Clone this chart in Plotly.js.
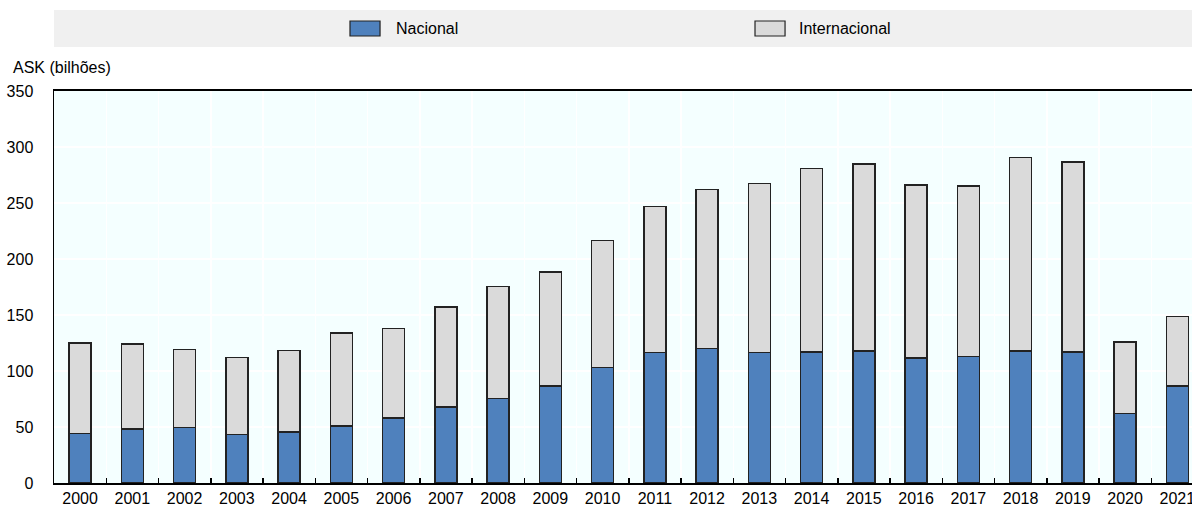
<!DOCTYPE html>
<html>
<head>
<meta charset="utf-8">
<script src="https://cdn.plot.ly/plotly-3.0.1.min.js"></script>
<style>html,body{margin:0;padding:0;background:#fff;}#chart{width:1192px;height:507px;}</style>
</head>
<body>
<div id="chart"></div>
<script>
const years = ['2000','2001','2002','2003','2004','2005','2006','2007','2008','2009','2010','2011','2012','2013','2014','2015','2016','2017','2018','2019','2020','2021'];
const nacional = [44, 48, 49.5, 43.5, 45.5, 51, 58, 68, 75.5, 86.5, 103, 116.5, 120, 116.5, 117, 118, 111.5, 113, 118, 117, 62, 86.5];
const total = [125, 124, 119, 112, 118.5, 134, 138, 157, 175.5, 188.5, 216.5, 247, 262, 267.5, 281, 285, 266, 265, 290.5, 286.5, 126, 148.5];
const internacional = total.map((t, i) => +(t - nacional[i]).toFixed(1));
const seriesNames = ['Nacional', 'Internacional'];
const yTitle = 'ASK (bilhões)';

const font = {family: 'Liberation Sans, Arial, sans-serif', size: 16, color: '#000'};
const lineStyle = {color: '#222', width: 1.5};

const traces = [
  {type: 'bar', name: seriesNames[0], x: years, y: nacional, marker: {color: '#4F81BD', line: lineStyle}, showlegend: false},
  {type: 'bar', name: seriesNames[1], x: years, y: internacional, marker: {color: '#DADADA', line: lineStyle}, showlegend: false}
];

const layout = {
  width: 1192, height: 507,
  margin: {l: 54, r: 0, t: 91, b: 24},
  paper_bgcolor: '#fff',
  plot_bgcolor: '#F4FFFF',
  barmode: 'stack',
  bargap: 0.58,
  font: font,
  xaxis: {
    type: 'category',
    range: [-0.5, 21.28],
    tickson: 'boundaries',
    ticks: 'inside', ticklen: 5, tickcolor: '#000', tickwidth: 1.5,
    showgrid: true, gridcolor: '#fff', gridwidth: 1.5,
    showline: true, linecolor: '#000', linewidth: 2, mirror: true,
    tickfont: font,
    fixedrange: true
  },
  yaxis: {
    range: [0, 350],
    dtick: 50,
    showgrid: true, gridcolor: '#fff', gridwidth: 1.5,
    showline: true, linecolor: '#000', linewidth: 1.5,
    ticks: 'outside', ticklen: 16, tickcolor: 'rgba(0,0,0,0)',
    zeroline: false,
    tickfont: font,
    fixedrange: true
  },
  shapes: [
    {type: 'rect', xref: 'paper', yref: 'paper', x0: 0, x1: 1, y0: 1.112, y1: 1.2066, fillcolor: '#F0F0F0', line: {width: 0}, layer: 'below'},
    {type: 'rect', xref: 'paper', yref: 'paper', x0: 0.2601, x1: 0.2865, y0: 1.1403, y1: 1.1786, fillcolor: '#4F81BD', line: {color: '#222', width: 1.2}},
    {type: 'rect', xref: 'paper', yref: 'paper', x0: 0.6160, x1: 0.6424, y0: 1.1403, y1: 1.1786, fillcolor: '#DADADA', line: {color: '#222', width: 1.2}}
  ],
  annotations: [
    {xref: 'paper', yref: 'paper', x: 0.2987, y: 1.1607, xanchor: 'left', yanchor: 'middle', text: seriesNames[0], showarrow: false, font: font},
    {xref: 'paper', yref: 'paper', x: 0.6529, y: 1.1607, xanchor: 'left', yanchor: 'middle', text: seriesNames[1], showarrow: false, font: font},
    {xref: 'paper', yref: 'paper', x: -0.0376, y: 1.0587, xanchor: 'left', yanchor: 'middle', text: yTitle, showarrow: false, font: font}
  ]
};

Plotly.newPlot('chart', traces, layout, {displayModeBar: false, staticPlot: true});
</script>
</body>
</html>
